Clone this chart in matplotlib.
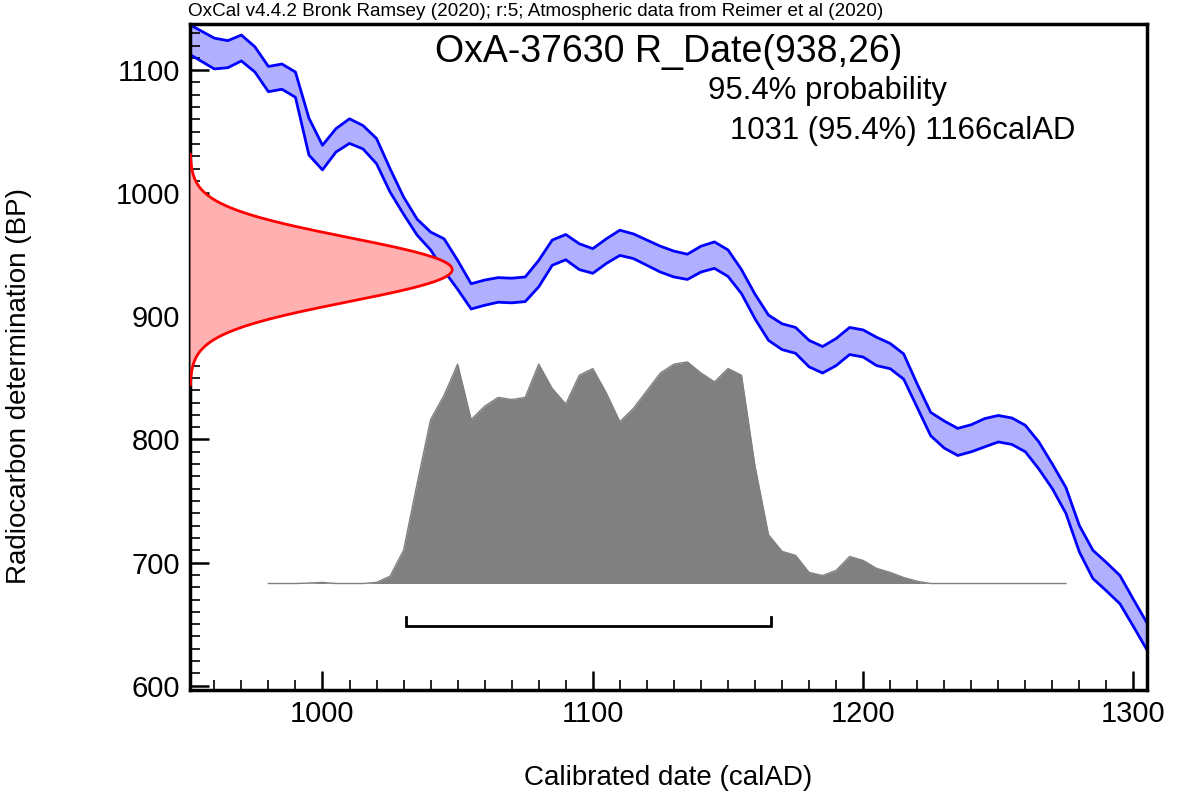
import matplotlib
matplotlib.use("Agg")
import matplotlib.pyplot as plt
import numpy as np
from matplotlib.ticker import MultipleLocator

plt.rcParams['font.family'] = ['Liberation Sans', 'DejaVu Sans']

# calibration curve (IntCal20 band), 5-year steps
curve_years = [950, 955, 960, 965, 970, 975, 980, 985, 990, 995,
               1000, 1005, 1010, 1015, 1020, 1025, 1030, 1035, 1040, 1045,
               1050, 1055, 1060, 1065, 1070, 1075, 1080, 1085, 1090, 1095,
               1100, 1105, 1110, 1115, 1120, 1125, 1130, 1135, 1140, 1145,
               1150, 1155, 1160, 1165, 1170, 1175, 1180, 1185, 1190, 1195,
               1200, 1205, 1210, 1215, 1220, 1225, 1230, 1235, 1240, 1245,
               1250, 1255, 1260, 1265, 1270, 1275, 1280, 1285, 1290, 1295,
               1300, 1305]
curve_upper = [1138, 1132, 1126, 1124, 1128.5, 1119, 1103, 1105, 1098.5, 1061,
               1039, 1052.5, 1060.5, 1055, 1044.5, 1020, 997, 979, 968.5, 963,
               945.5, 926.5, 929.5, 931.5, 931, 932, 945.5, 962, 966.5, 959,
               955, 963, 970, 967, 962, 957, 953, 950.5, 957, 960.5,
               954, 938, 918, 901, 894, 891, 880.5, 875.5, 882, 891,
               889, 883, 878, 869.5, 845, 822, 815, 809, 812, 817,
               819.5, 817.5, 811.5, 798, 780, 761, 730, 710, 700, 689.5,
               670, 651]
curve_lower = [1114, 1107.5, 1101, 1102, 1107.5, 1098.5, 1082.5, 1084.5, 1078, 1031,
               1019, 1033.5, 1040.5, 1036, 1024, 1001, 983, 966, 954, 937,
               922, 906, 909, 911.5, 911, 912, 924, 941.5, 946, 938,
               935, 943, 949.5, 947, 941.5, 936, 932, 930, 936, 939,
               932.5, 918.5, 898, 880.5, 873, 870, 859, 854, 860, 869,
               867, 860, 857.5, 849, 826, 803, 793, 787, 790, 794,
               798, 796, 790, 776, 760, 740, 708.5, 687, 677, 666.5,
               648, 629]

# calibrated probability (relative), 5-year steps
prob_years = [980, 985, 990, 995, 1000, 1005, 1010, 1015, 1020, 1025,
              1030, 1035, 1040, 1045, 1050, 1055, 1060, 1065, 1070, 1075,
              1080, 1085, 1090, 1095, 1100, 1105, 1110, 1115, 1120, 1125,
              1130, 1135, 1140, 1145, 1150, 1155, 1160, 1165, 1170, 1175,
              1180, 1185, 1190, 1195, 1200, 1205, 1210, 1215, 1220, 1225,
              1230, 1235, 1240, 1245, 1250, 1255, 1260, 1265, 1270, 1275]
prob = [0, 0, 0, 0.002, 0.005, 0, 0, 0, 0.005, 0.033,
        0.15, 0.45, 0.74, 0.85, 0.99, 0.74, 0.80, 0.84, 0.83, 0.84,
        0.99, 0.88, 0.81, 0.94, 0.97, 0.86, 0.73, 0.79, 0.87, 0.95,
        0.99, 1.0, 0.95, 0.91, 0.97, 0.94, 0.53, 0.22, 0.145, 0.127,
        0.05, 0.036, 0.059, 0.122, 0.104, 0.068, 0.05, 0.027, 0.01, 0,
        0, 0, 0, 0, 0, 0, 0, 0, 0, 0]

r_date = 938
r_err = 26
range_from = 1031
range_to = 1166

xmin, xmax = 951, 1305
ymin, ymax = 596.5, 1137.5

fig = plt.figure(figsize=(11.79, 7.94), dpi=100)
ax = fig.add_axes([190 / 1179, 1 - 690 / 794, (1147 - 190) / 1179, (690 - 24) / 794])

# calibration curve band
ax.fill_between(curve_years, curve_lower, curve_upper, color='#b0b0ff', lw=0, zorder=1)
ax.plot(curve_years, curve_upper, color='#0000ff', lw=2, zorder=2)
ax.plot(curve_years, curve_lower, color='#0000ff', lw=2, zorder=2)

# radiocarbon measurement as normal curve along the y axis
bp = np.linspace(r_date - 3.6 * r_err, r_date + 3.6 * r_err, 300)
dens = np.exp(-0.5 * ((bp - r_date) / r_err) ** 2)
red_width = 97
ax.fill_betweenx(bp, xmin, xmin + red_width * dens, color='#ffb0b0', lw=0, zorder=3)
ax.plot(xmin + red_width * dens, bp, color='#ff0000', lw=2, zorder=4)

# calibrated distribution
base = 683
height = 180
top = base + height * np.array(prob)
ax.fill_between(prob_years, base, top, color='#808080', lw=0, zorder=3)
ax.plot(prob_years, top, color='#808080', lw=1, zorder=3)

# 95.4% range bracket
ax.plot([range_from, range_from, range_to, range_to], [656, 648.5, 648.5, 656],
        color='black', lw=2, zorder=5, solid_joinstyle='miter')

ax.set_xlim(xmin, xmax)
ax.set_ylim(ymin, ymax)
ax.xaxis.set_major_locator(MultipleLocator(100))
ax.xaxis.set_minor_locator(MultipleLocator(10))
ax.yaxis.set_major_locator(MultipleLocator(100))
ax.yaxis.set_minor_locator(MultipleLocator(10))
ax.tick_params(which='both', direction='in', top=False, right=False, labelsize=21, pad=7)
ax.tick_params(which='major', length=14, width=1.8)
ax.tick_params(which='minor', length=7, width=1.2)
for s in ax.spines.values():
    s.set_linewidth(2.5)

ax.set_xlabel('Calibrated date (calAD)', fontsize=20, labelpad=27)
ax.set_ylabel('Radiocarbon determination (BP)', fontsize=20)
ax.yaxis.set_label_coords(-0.165, 0.456)

ax.text(0.5, 0.958, 'OxA-37630 R_Date(%d,%d)' % (r_date, r_err), transform=ax.transAxes,
        ha='center', va='center', fontsize=27)
fig.text(708 / 1179, 1 - 91 / 794, '95.4% probability', ha='left', va='center', fontsize=22.4)
fig.text(730 / 1179, 1 - 131 / 794, '%d (95.4%%) %dcalAD' % (range_from, range_to),
         ha='left', va='center', fontsize=22.4)
fig.text(188 / 1179, 1 - 11 / 794,
         'OxCal v4.4.2 Bronk Ramsey (2020); r:5; Atmospheric data from Reimer et al (2020)',
         ha='left', va='center', fontsize=13.6)

fig.savefig('out.png', dpi=100)
